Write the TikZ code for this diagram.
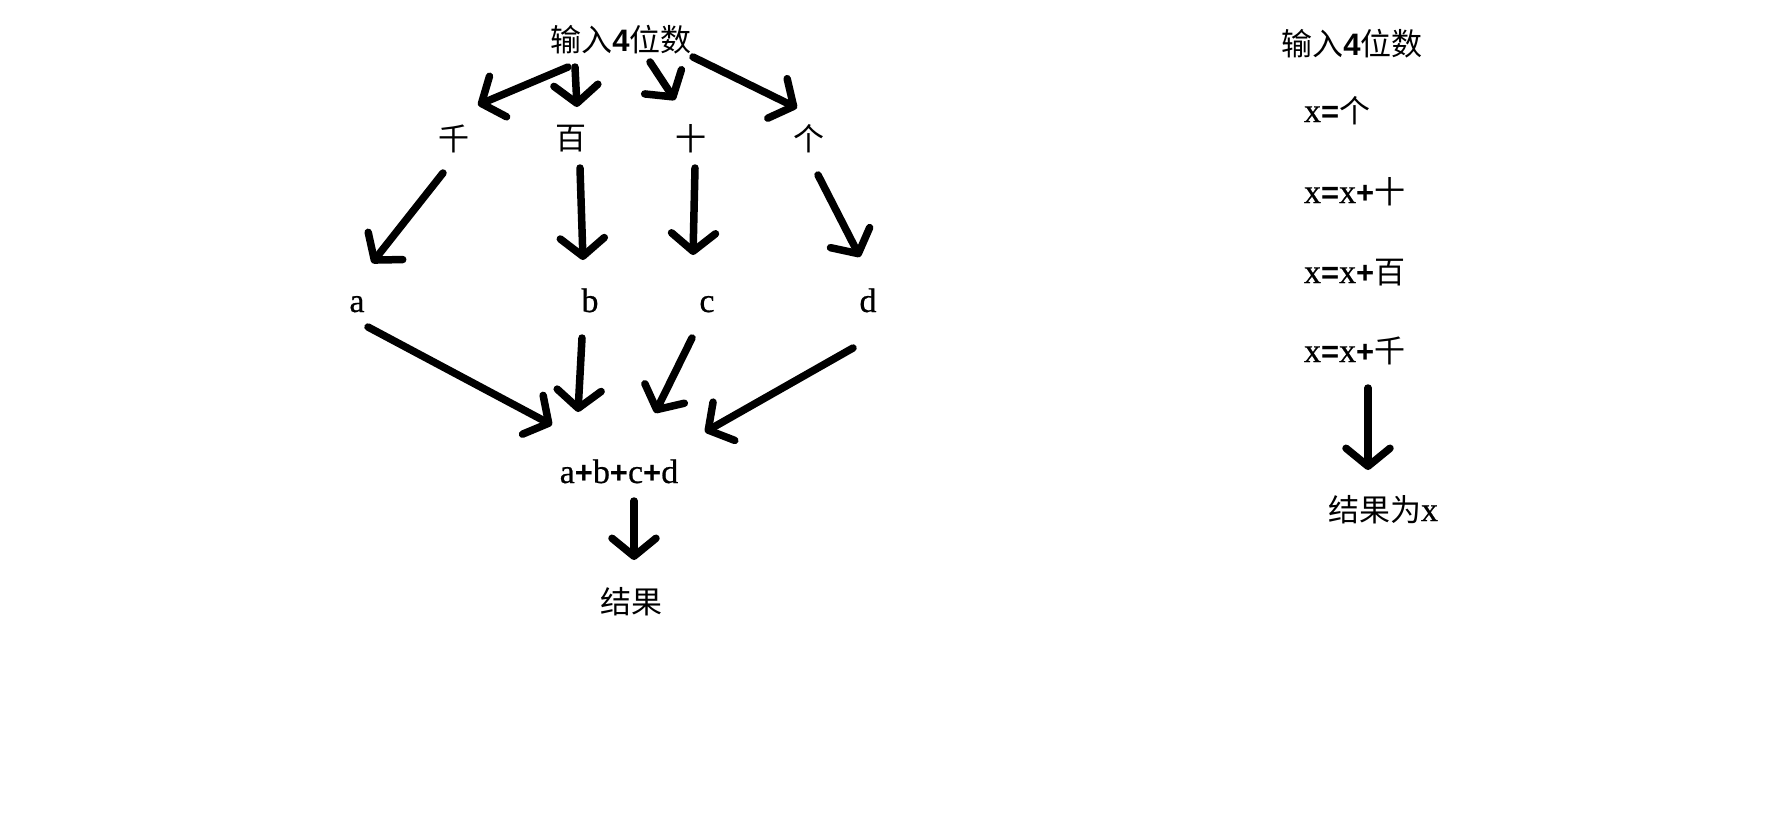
\documentclass[tikz,border=0pt]{standalone}
\usepackage{fontspec}
\setmainfont{Liberation Serif}
\newfontfamily\latf{Liberation Serif}[FakeBold=0.6]
\newfontfamily\cjkf{Noto Sans CJK SC}
\newfontfamily\symf{Liberation Sans}
\usetikzlibrary{arrows.meta}
\newcommand\myzh[1]{{\cjkf\fontsize{31}{36}\selectfont #1}}
\newcommand\mylat[1]{{\latf\fontsize{34}{40}\selectfont #1}}
\newcommand\mysym[1]{{\symf\bfseries\fontsize{31}{36}\selectfont #1}}
\begin{document}
\begin{tikzpicture}[x=1pt,y=-1pt,
  txt/.style={inner sep=0pt,outer sep=0pt},
  arr/.style={line width=7.5pt,line cap=round,line join=round,
    -{Straight Barb[length=18pt,width=44pt,round]}}]
\useasboundingbox[fill=white] (0,0) rectangle (1778,836);
% left diagram
\node[txt,anchor=base] (in) at (621,51) {\myzh{输入}\mysym{4}\myzh{位数}};
\node[txt] (qian) at (454,139) {\myzh{千}};
\node[txt] (bai) at (571,139) {\myzh{百}};
\node[txt] (shi) at (691,139) {\myzh{十}};
\node[txt] (ge) at (809,139) {\myzh{个}};
\node[txt,anchor=base] (a) at (357,312) {\mylat{a}};
\node[txt,anchor=base] (b) at (590,312) {\mylat{b}};
\node[txt,anchor=base] (c) at (707,312) {\mylat{c}};
\node[txt,anchor=base] (d) at (868,312) {\mylat{d}};
\node[txt,anchor=base] (sum) at (619,483) {\mylat{a}\mysym{+}\mylat{b}\mysym{+}\mylat{c}\mysym{+}\mylat{d}};
\node[txt] (res) at (631,602) {\myzh{结果}};
% right column
\node[txt,anchor=base] (in2) at (1352,55) {\myzh{输入}\mysym{4}\myzh{位数}};
\node[txt,anchor=base west] (r1) at (1304,122) {\mylat{x}\mysym{=}\myzh{个}};
\node[txt,anchor=base west] (r2) at (1304,203) {\mylat{x}\mysym{=}\mylat{x}\mysym{+}\myzh{十}};
\node[txt,anchor=base west] (r3) at (1304,283) {\mylat{x}\mysym{=}\mylat{x}\mysym{+}\myzh{百}};
\node[txt,anchor=base west] (r4) at (1304,362) {\mylat{x}\mysym{=}\mylat{x}\mysym{+}\myzh{千}};
\node[txt,anchor=base west] (rres) at (1328,521) {\myzh{结果为}\mylat{x}};
% arrows: input -> digits
\draw[arr] ([shift={(-53,16)}]in.base) -- ([shift={(24,-34)}]qian.center);
\draw[arr] ([shift={(-46,16)}]in.base) -- ([shift={(6,-32)}]bai.center);
\draw[arr] ([shift={(29,11)}]in.base) -- ([shift={(-16,-39)}]shi.center);
\draw[arr] ([shift={(72,6)}]in.base) -- ([shift={(-12,-31)}]ge.center);
% digits -> letters
\draw[arr] ([shift={(-11,34)}]qian.center) -- ([shift={(15,-49)}]a.base);
\draw[arr] ([shift={(9,29)}]bai.center) -- ([shift={(-7,-52)}]b.base);
\draw[arr] ([shift={(4,29)}]shi.center) -- ([shift={(-14,-57)}]c.base);
\draw[arr] ([shift={(9,36)}]ge.center) -- ([shift={(-8,-55)}]d.base);
% letters -> sum
\draw[arr] ([shift={(11,15)}]a.base) -- ([shift={(-67,-58)}]sum.base);
\draw[arr] ([shift={(-8,26)}]b.base) -- ([shift={(-41,-71)}]sum.base);
\draw[arr] ([shift={(-15,26)}]c.base) -- ([shift={(36,-70)}]sum.base);
\draw[arr] ([shift={(-15,36)}]d.base) -- ([shift={(86,-51)}]sum.base);
% sum -> result
\draw[arr] ([shift={(15,18)}]sum.base) -- ([shift={(3,-42)}]res.center);
% right arrow
\draw[arr] ([shift={(64,26)}]r4.base west) -- ([shift={(40,-51)}]rres.base west);
\end{tikzpicture}
\end{document}
